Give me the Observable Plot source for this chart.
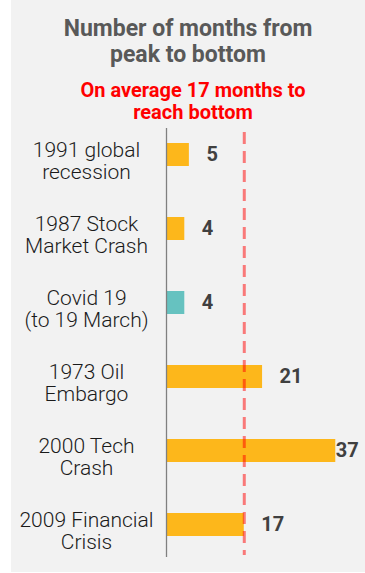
<!DOCTYPE html>
<html><head><meta charset="utf-8">
<script src="https://cdn.jsdelivr.net/npm/d3@7"></script>
<script src="https://cdn.jsdelivr.net/npm/@observablehq/plot@0.6"></script>
<style>
body{margin:0;background:#fff;}
#panel{position:absolute;left:11px;top:0;width:354px;height:572px;background:#f2f2f2;font-family:Roboto,sans-serif;overflow:hidden;}
#title{position:absolute;left:0;width:354px;top:16px;text-align:center;color:#595959;font-weight:700;font-size:23px;line-height:26px;}
#sub{position:absolute;left:5px;width:354px;top:79px;text-align:center;color:#ff0000;font-weight:700;font-size:20px;line-height:22px;}
#chart{position:absolute;left:0;top:120px;}
</style></head>
<body>
<div id="panel">
  <div id="title">Number of months from<br>peak to bottom</div>
  <div id="sub">On average 17 months to<br>reach bottom</div>
  <div id="chart"></div>
</div>
<script>
const categories = ["1991 global\nrecession", "1987 Stock\nMarket Crash", "Covid 19\n(to 19 March)", "1973 Oil\nEmbargo", "2000 Tech\nCrash", "2009 Financial\nCrisis"];
const values = [5, 4, 4, 21, 37, 17];
const groups = ["past", "past", "current", "past", "past", "past"];
const average = 17;

const data = categories.map((label, i) => ({label, value: values[i], group: groups[i]}));

const chart = Plot.plot({
  width: 354,
  height: 453,
  marginLeft: 155,
  marginRight: 16,
  marginTop: 14,
  marginBottom: 28,
  style: {background: "transparent", fontFamily: "Roboto, sans-serif"},
  x: {domain: [0, 40], axis: null},
  y: {domain: categories, axis: null, paddingInner: 0.69, paddingOuter: 0.1},
  color: {domain: ["past", "current"], range: ["#FDB71B", "#66C2C0"]},
  marks: [
    Plot.barX(data, {x: "value", y: "label", fill: "group"}),
    Plot.ruleX([0], {stroke: "#808080", strokeWidth: 1.3, insetTop: -6, insetBottom: -12}),
    Plot.ruleX([average], {stroke: "#ff0000", strokeOpacity: 0.5, strokeWidth: 3, strokeDasharray: "12,7", insetTop: -2, insetBottom: -10}),
    Plot.text(data, {y: "label", text: "label", frameAnchor: "left", dx: -80, dy: 6.2, textAnchor: "middle", lineHeight: 1.06, fontSize: 21, fontWeight: 300, fill: "#1a1a1a"}),
    Plot.text(data.filter(d => d.value < 30), {x: "value", y: "label", text: d => String(d.value), dx: 17, textAnchor: "start", fontWeight: 700, fontSize: 20, fill: "#404040"}),
    Plot.text(data.filter(d => d.value >= 30), {x: "value", y: "label", text: d => String(d.value), dx: 0, textAnchor: "start", fontWeight: 700, fontSize: 20, fill: "#404040"})
  ]
});
document.getElementById("chart").appendChild(chart);
</script>
</body></html>
